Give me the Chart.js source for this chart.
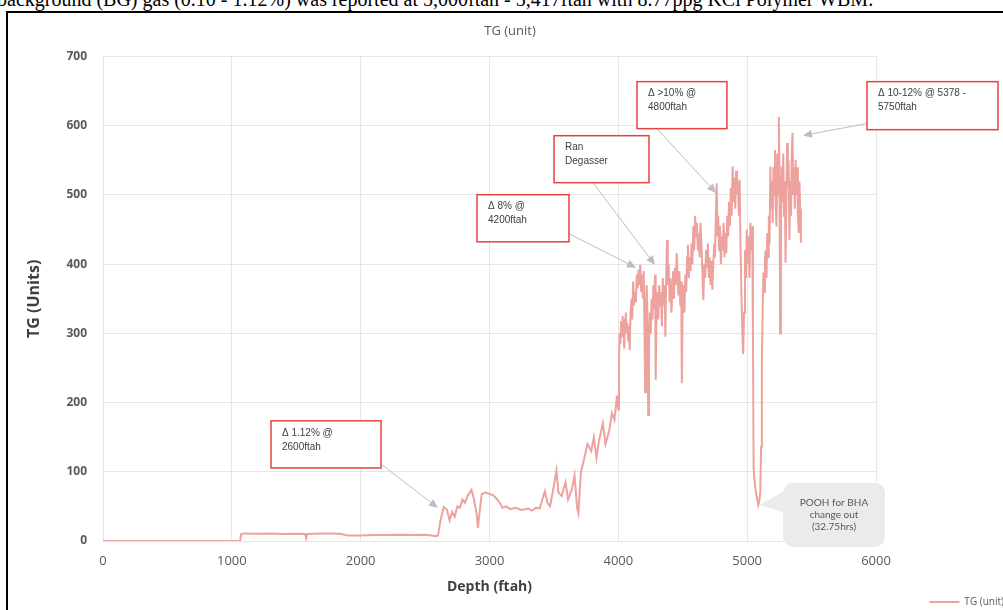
<!DOCTYPE html>
<html>
<head>
<meta charset="utf-8">
<script src="https://cdn.jsdelivr.net/npm/chart.js@4.4.1/dist/chart.umd.min.js"></script>
<style>
  html, body { margin: 0; padding: 0; width: 1003px; height: 610px; overflow: hidden; background: #fff; }
  #lead { position: absolute; left: -3px; top: -12px; font: 20px 'Liberation Serif', serif; white-space: nowrap; color: #000; }
  #wrap { position: absolute; left: 0; top: 0; width: 1012px; height: 620px; }
  #frame { position: absolute; left: 6px; top: 11px; width: 1030px; height: 640px; border: 2px solid #000; box-sizing: border-box; pointer-events: none; }
</style>
</head>
<body>
<div id="lead">background (BG) gas (0.10 - 1.12%) was reported at 5,000ftah - 5,417ftah with 8.77ppg KCl Polymer WBM.</div>
<div id="wrap"><canvas id="tg" width="1012" height="620"></canvas></div>
<div id="frame"></div>
<script>
const depthFt = [
  0, 1065, 1072, 1100, 1200, 1300, 1400, 1500, 1570, 1577, 1584, 1700, 1800, 1850, 1900, 2000, 2100, 2200, 2300, 2400, 2500, 2590, 2600,
  2620, 2645, 2670, 2690, 2710, 2730, 2750, 2770, 2790, 2810, 2830, 2860, 2880, 2900, 2910, 2925, 2940, 2970, 3000, 3030, 3060, 3080, 3100,
  3130, 3160, 3200, 3250, 3300, 3330, 3360, 3390, 3410, 3430, 3450, 3470, 3500, 3520, 3535, 3560, 3590, 3610, 3640, 3660,
  3680, 3690, 3710, 3730, 3760, 3790, 3810, 3830, 3850, 3880, 3900, 3930, 3950, 3970, 3990,
  4000, 4005, 4010, 4016, 4022, 4028, 4034, 4040, 4046, 4052,
  4058, 4064, 4070, 4076, 4082, 4088, 4095, 4102, 4108, 4115,
  4122, 4130, 4136, 4143, 4150, 4157, 4163, 4170, 4177, 4184,
  4190, 4197, 4203, 4208, 4214, 4220, 4226, 4232, 4238, 4245,
  4252, 4258, 4265, 4272, 4278, 4285, 4290, 4296, 4303, 4310,
  4317, 4324, 4331, 4338, 4345, 4352, 4359, 4365, 4372, 4378,
  4384, 4391, 4398, 4405, 4412, 4419, 4426, 4432, 4439, 4446,
  4453, 4460, 4467, 4474, 4481, 4488, 4493, 4499, 4506, 4513,
  4520, 4527, 4534, 4540, 4547, 4554, 4561, 4568, 4575, 4582,
  4589, 4596, 4603, 4610, 4617, 4624, 4631, 4638, 4645, 4652,
  4660, 4667, 4674, 4681, 4688, 4695, 4702, 4709, 4716, 4723,
  4730, 4737, 4744, 4750, 4757, 4763, 4769, 4775, 4782, 4789,
  4796, 4803, 4810, 4817, 4824, 4831, 4838, 4845, 4852, 4859,
  4866, 4873, 4880, 4887, 4894, 4900, 4907, 4914, 4921, 4928,
  4935, 4942, 4948, 4955, 4962, 4969, 4976, 4983, 4990, 4997,
  5004, 5011, 5018, 5025, 5032, 5039, 5045, 5050, 5056, 5062,
  5070, 5078, 5086, 5094, 5102, 5108, 5114, 5120, 5126, 5132,
  5138, 5144, 5150, 5156, 5162, 5168, 5174, 5180, 5186, 5192,
  5198, 5204, 5210, 5216, 5222, 5228, 5234, 5240, 5246, 5251,
  5256, 5262, 5268, 5274, 5280, 5286, 5292, 5298, 5304, 5310,
  5316, 5322, 5328, 5334, 5340, 5346, 5352, 5358, 5364, 5370,
  5376, 5382, 5388, 5394, 5400, 5406, 5411, 5417
];
const tgUnits = [
  0, 0, 10, 11, 10.5, 11, 10, 10.5, 10, 4, 10, 11, 11, 10, 8, 8, 8.5, 8.5, 9, 8.5, 9, 7, 8,
  30, 49, 45, 30, 42, 35, 50, 48, 60, 55, 65, 74, 60, 40, 19, 45, 68, 70, 68, 66, 60, 55, 48,
  50, 46, 48, 45, 47, 44, 48, 47, 60, 72, 55, 50, 80, 102, 70, 65, 85, 60, 75, 95,
  48, 40, 100, 115, 140, 130, 150, 120, 145, 170, 140, 160, 185, 175, 210,
  190, 260, 300, 285, 318, 295, 325, 300, 278, 320,
  330, 300, 315, 290, 310, 276, 330, 350, 320, 375,
  340, 360, 345, 385, 365, 392, 370, 399, 360, 385,
  350, 390, 300, 215, 340, 370, 330, 182, 280, 330,
  300, 350, 320, 370, 335, 385, 233, 330, 360, 320,
  370, 340, 360, 310, 380, 340, 370, 295, 390, 435,
  370, 400, 345, 380, 330, 360, 390, 350, 395, 370,
  416, 380, 355, 390, 340, 375, 228, 340, 370, 330,
  385, 360, 410, 428, 380, 410, 390, 430, 400, 455,
  420, 470, 440, 460, 420, 445, 410, 460, 430, 390,
  348, 400, 380, 420, 395, 430, 380, 410, 370, 405,
  363, 400, 430, 410, 470, 517, 440, 470, 420, 455,
  400, 440, 420, 460, 410, 445, 416, 470, 440, 490,
  455, 510, 470, 541, 490, 525, 480, 535, 500, 520,
  470, 522, 430, 360, 305, 270, 330, 420, 380, 450,
  400, 440, 380, 460, 420, 455, 300, 105, 90, 78,
  68, 60, 52, 58, 70, 136, 260, 330, 388, 360,
  406, 420, 380, 445, 410, 470, 430, 541, 480, 520,
  460, 540, 500, 565, 480, 454, 560, 500, 613, 520,
  300, 450, 541, 490, 560, 470, 520, 402, 480, 575,
  510, 550, 435, 520, 470, 560, 590, 500, 540, 480,
  551, 500, 540, 470, 445, 520, 480, 431
];

// callout boxes: box corners, arrow start and tip, all in chart units
const notes = [
  { lines: ['\u0394 1.12% @', '2600ftah'], box: [1304, 173.6, 2158, 105.6], from: [2166, 110], to: [2600, 48] },
  { lines: ['\u0394 8% @', '4200ftah'], box: [2903, 500.4, 3617, 432.4], from: [3617, 444], to: [4137, 395] },
  { lines: ['Ran', 'Degasser'], box: [3501, 585.7, 4238, 517.8], from: [3803, 517.8], to: [4285, 399] },
  { lines: ['\u0394 >10% @', '4800ftah'], box: [4145, 663.8, 4843, 595.9], from: [4300, 595.9], to: [4758, 503] },
  { lines: ['\u0394 10-12% @ 5378 -', '5750ftah'], box: [5930, 663.8, 6947, 594.4], from: [5922, 603], to: [5433, 586] }
];
const pooh = { lines: ['POOH for BHA', 'change out', '(32.75hrs)'], box: [5278, 84, 6070, -8.7], tip: [5092, 52] };

const lineColor = '#EDA29E';

function arrow(ctx, x0, y0, x1, y1) {
  const a = Math.atan2(y1 - y0, x1 - x0);
  const len = 9, hw = 4;
  ctx.beginPath();
  ctx.moveTo(x0, y0);
  ctx.lineTo(x1 - Math.cos(a) * len, y1 - Math.sin(a) * len);
  ctx.stroke();
  ctx.beginPath();
  ctx.moveTo(x1, y1);
  ctx.lineTo(x1 - Math.cos(a) * len - Math.sin(a) * hw, y1 - Math.sin(a) * len + Math.cos(a) * hw);
  ctx.lineTo(x1 - Math.cos(a) * len + Math.sin(a) * hw, y1 - Math.sin(a) * len - Math.cos(a) * hw);
  ctx.closePath();
  ctx.fill();
}

const notesPlugin = {
  id: 'notes',
  afterDatasetsDraw(chart) {
    const { ctx, scales: { x, y } } = chart;
    const px = v => x.getPixelForValue(v);
    const py = v => y.getPixelForValue(v);
    ctx.save();

    // POOH bubble
    const bl = px(pooh.box[0]), bt = py(pooh.box[1]), br = px(pooh.box[2]), bb = py(pooh.box[3]);
    ctx.fillStyle = '#EBEBEB';
    ctx.beginPath();
    ctx.roundRect(bl, bt, br - bl, bb - bt, 10);
    ctx.fill();
    ctx.beginPath();
    ctx.moveTo(bl + 2, bt + 8);
    ctx.lineTo(px(pooh.tip[0]), py(pooh.tip[1]));
    ctx.lineTo(bl + 2, bt + 30);
    ctx.closePath();
    ctx.fill();
    ctx.fillStyle = '#595959';
    ctx.font = '10px Lato, sans-serif';
    ctx.textAlign = 'center';
    ctx.textBaseline = 'middle';
    pooh.lines.forEach((t, i) => ctx.fillText(t, (bl + br) / 2, bt + 20 + i * 12));

    // arrows
    ctx.strokeStyle = '#BDBDBD';
    ctx.fillStyle = '#BDBDBD';
    ctx.lineWidth = 1;
    notes.forEach(n => arrow(ctx, px(n.from[0]), py(n.from[1]), px(n.to[0]), py(n.to[1])));

    // red boxes
    ctx.font = '10px "Liberation Sans", Arial, sans-serif';
    ctx.textAlign = 'left';
    notes.forEach(n => {
      const l = px(n.box[0]), t = py(n.box[1]), r = px(n.box[2]), b = py(n.box[3]);
      ctx.fillStyle = '#fff';
      ctx.fillRect(l, t, r - l, b - t);
      ctx.strokeStyle = '#E8423F';
      ctx.lineWidth = 1.5;
      ctx.strokeRect(l, t, r - l, b - t);
      ctx.fillStyle = '#404040';
      n.lines.forEach((s, i) => ctx.fillText(s, l + 11, t + 12 + i * 14));
    });
    ctx.restore();
  }
};

const gridColor = '#E6E6E6';

new Chart(document.getElementById('tg'), {
  type: 'line',
  data: {
    datasets: [{
      label: 'TG (unit)',
      data: depthFt.map((d, i) => ({ x: d, y: tgUnits[i] })),
      borderColor: lineColor,
      backgroundColor: lineColor,
      borderWidth: 2,
      pointRadius: 0,
      tension: 0
    }]
  },
  options: {
    responsive: false,
    animation: false,
    font: { family: "'Open Sans', sans-serif" },
    layout: { padding: { left: 8, right: 0, top: 3, bottom: 3 } },
    plugins: {
      title: {
        display: true,
        text: 'TG (unit)',
        color: '#595959',
        font: { family: "'Open Sans', sans-serif", size: 13, weight: 'normal' },
        padding: { top: 20, bottom: 18 }
      },
      legend: {
        position: 'bottom',
        align: 'end',
        labels: {
          usePointStyle: true,
          pointStyle: 'line',
          pointStyleWidth: 30,
          color: '#595959',
          font: { family: "'Open Sans', sans-serif", size: 10 },
          padding: 8
        }
      },
      tooltip: { enabled: false }
    },
    scales: {
      x: {
        type: 'linear',
        min: 0,
        max: 6000,
        grid: { color: gridColor, drawTicks: false },
        border: { color: gridColor },
        ticks: {
          stepSize: 1000,
          padding: 12,
          maxRotation: 0,
          color: '#595959',
          font: { family: "'Open Sans', sans-serif", size: 13 },
          callback: v => String(v)
        },
        title: {
          display: true,
          text: 'Depth (ftah)',
          color: '#404040',
          font: { family: "'Open Sans', sans-serif", size: 14, weight: 'bold' },
          padding: { top: 0, bottom: -6 }
        },
        afterFit(s) { s.height = 48; }
      },
      y: {
        min: 0,
        max: 700,
        grid: { color: gridColor, drawTicks: false },
        border: { color: gridColor },
        ticks: {
          stepSize: 100,
          padding: 16,
          color: '#595959',
          font: { family: "'Open Sans', sans-serif", size: 12, weight: 'bold' }
        },
        title: {
          display: true,
          text: 'TG (Units)',
          color: '#404040',
          font: { family: "'Open Sans', sans-serif", size: 16, weight: 'bold' },
          padding: { top: 17, bottom: 0 }
        },
        afterFit(s) { s.width = 95; }
      },
      y2: {
        position: 'right',
        display: true,
        grid: { display: false },
        border: { display: false },
        ticks: { display: false },
        afterFit(s) { s.width = 136; }
      }
    }
  },
  plugins: [notesPlugin]
});
</script>
</body>
</html>
